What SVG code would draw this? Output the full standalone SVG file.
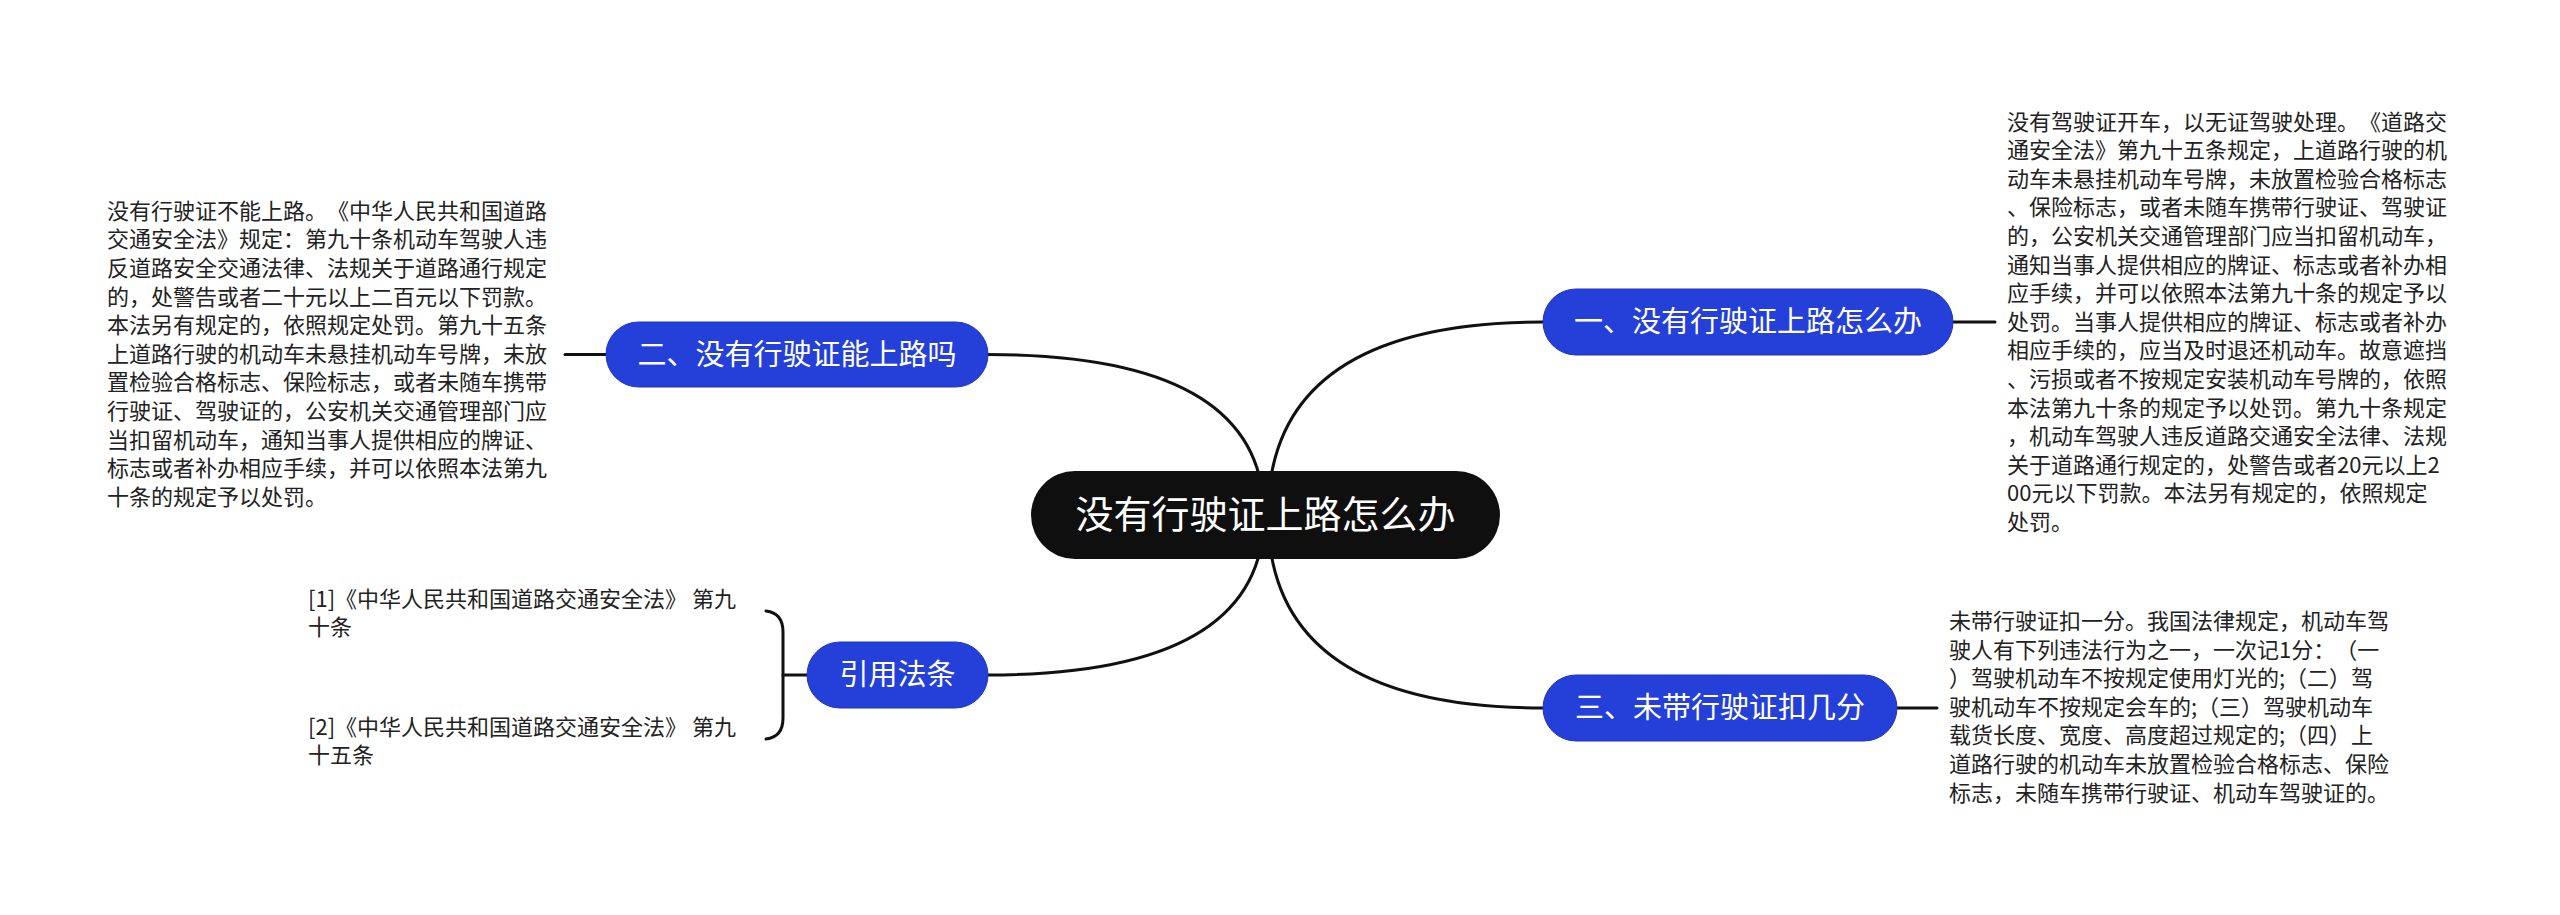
<svg xmlns="http://www.w3.org/2000/svg" width="2560" height="915" viewBox="0 0 2560 915">
<style>
.bg{fill:#ffffff}
.conn{fill:none;stroke:#111111;stroke-width:3;stroke-linecap:round}
.root{fill:#0f0f0f}
.sub{fill:#2540d8;stroke:#1d34c4;stroke-width:1}
text{text-spacing-trim:space-all;font-kerning:none}
.rootText{font-family:"Noto Sans CJK SC","Noto Sans",sans-serif;font-size:38px;fill:#ffffff;text-anchor:middle}
.subText{font-family:"Noto Sans CJK SC","Noto Sans",sans-serif;font-size:29px;fill:#ffffff;text-anchor:middle}
.body{font-family:"Noto Sans CJK SC","Noto Sans",sans-serif;font-size:22px;fill:#222222}
</style>
<rect class="bg" x="0" y="0" width="2560" height="915"/>
<g id="connectors">
  <path class="conn" d="M1268,515 Q1268,322 1543,322"/>
  <path class="conn" d="M1264,515 Q1264,354.5 988,354.5"/>
  <path class="conn" d="M1264,515 Q1264,675 988,675"/>
  <path class="conn" d="M1268,515 Q1268,708 1543,708"/>
  <path class="conn" d="M1953,322 L1995,322"/>
  <path class="conn" d="M565,354.5 L606,354.5"/>
  <path class="conn" d="M1897,708 L1937,708"/>
  <path class="conn" d="M807,675 L783,675"/>
  <path class="conn" d="M766,611 Q783,613 783,632 L783,718 Q783,737 766,739"/>
</g>
<g id="root">
  <rect class="root" x="1031" y="471" width="469" height="88" rx="44"/>
  <text class="rootText" x="1265.5" y="528">没有行驶证上路怎么办</text>
</g>
<g id="node1">
  <rect class="sub" x="1543" y="289" width="410" height="66" rx="33"/>
  <text class="subText" x="1748" y="332">一、没有行驶证上路怎么办</text>
</g>
<g id="node2">
  <rect class="sub" x="606" y="322" width="382" height="65" rx="32.5"/>
  <text class="subText" x="797" y="364.5">二、没有行驶证能上路吗</text>
</g>
<g id="node3">
  <rect class="sub" x="807" y="642" width="181" height="66" rx="33"/>
  <text class="subText" x="897.5" y="685">引用法条</text>
</g>
<g id="node4">
  <rect class="sub" x="1543" y="675" width="354" height="66" rx="33"/>
  <text class="subText" x="1720" y="718">三、未带行驶证扣几分</text>
</g>
<g id="text1">
  <text class="body" x="2007" y="129.5">没有驾驶证开车，以无证驾驶处理。《道路交</text>
  <text class="body" x="2007" y="158.1">通安全法》第九十五条规定，上道路行驶的机</text>
  <text class="body" x="2007" y="186.7">动车未悬挂机动车号牌，未放置检验合格标志</text>
  <text class="body" x="2007" y="215.3">、保险标志，或者未随车携带行驶证、驾驶证</text>
  <text class="body" x="2007" y="243.9">的，公安机关交通管理部门应当扣留机动车，</text>
  <text class="body" x="2007" y="272.5">通知当事人提供相应的牌证、标志或者补办相</text>
  <text class="body" x="2007" y="301.1">应手续，并可以依照本法第九十条的规定予以</text>
  <text class="body" x="2007" y="329.7">处罚。当事人提供相应的牌证、标志或者补办</text>
  <text class="body" x="2007" y="358.3">相应手续的，应当及时退还机动车。故意遮挡</text>
  <text class="body" x="2007" y="386.9">、污损或者不按规定安装机动车号牌的，依照</text>
  <text class="body" x="2007" y="415.5">本法第九十条的规定予以处罚。第九十条规定</text>
  <text class="body" x="2007" y="444.1">，机动车驾驶人违反道路交通安全法律、法规</text>
  <text class="body" x="2007" y="472.7">关于道路通行规定的，处警告或者20元以上2</text>
  <text class="body" x="2007" y="501.3">00元以下罚款。本法另有规定的，依照规定</text>
  <text class="body" x="2007" y="529.9">处罚。</text>
</g>
<g id="text2">
  <text class="body" x="107" y="218.7">没有行驶证不能上路。《中华人民共和国道路</text>
  <text class="body" x="107" y="247.3">交通安全法》规定：第九十条机动车驾驶人违</text>
  <text class="body" x="107" y="275.9">反道路安全交通法律、法规关于道路通行规定</text>
  <text class="body" x="107" y="304.5">的，处警告或者二十元以上二百元以下罚款。</text>
  <text class="body" x="107" y="333.1">本法另有规定的，依照规定处罚。第九十五条</text>
  <text class="body" x="107" y="361.7">上道路行驶的机动车未悬挂机动车号牌，未放</text>
  <text class="body" x="107" y="390.3">置检验合格标志、保险标志，或者未随车携带</text>
  <text class="body" x="107" y="418.9">行驶证、驾驶证的，公安机关交通管理部门应</text>
  <text class="body" x="107" y="447.5">当扣留机动车，通知当事人提供相应的牌证、</text>
  <text class="body" x="107" y="476.1">标志或者补办相应手续，并可以依照本法第九</text>
  <text class="body" x="107" y="504.7">十条的规定予以处罚。</text>
</g>
<g id="text3">
  <text class="body" x="308" y="606.7">[1]《中华人民共和国道路交通安全法》 第九</text>
  <text class="body" x="308" y="634.7">十条</text>
</g>
<g id="text4">
  <text class="body" x="308" y="734.7">[2]《中华人民共和国道路交通安全法》 第九</text>
  <text class="body" x="308" y="762.7">十五条</text>
</g>
<g id="text5">
  <text class="body" x="1949" y="628.9">未带行驶证扣一分。我国法律规定，机动车驾</text>
  <text class="body" x="1949" y="657.5">驶人有下列违法行为之一，一次记1分：（一</text>
  <text class="body" x="1949" y="686.1">）驾驶机动车不按规定使用灯光的;（二）驾</text>
  <text class="body" x="1949" y="714.7">驶机动车不按规定会车的;（三）驾驶机动车</text>
  <text class="body" x="1949" y="743.3">载货长度、宽度、高度超过规定的;（四）上</text>
  <text class="body" x="1949" y="771.9">道路行驶的机动车未放置检验合格标志、保险</text>
  <text class="body" x="1949" y="800.5">标志，未随车携带行驶证、机动车驾驶证的。</text>
</g>
</svg>
